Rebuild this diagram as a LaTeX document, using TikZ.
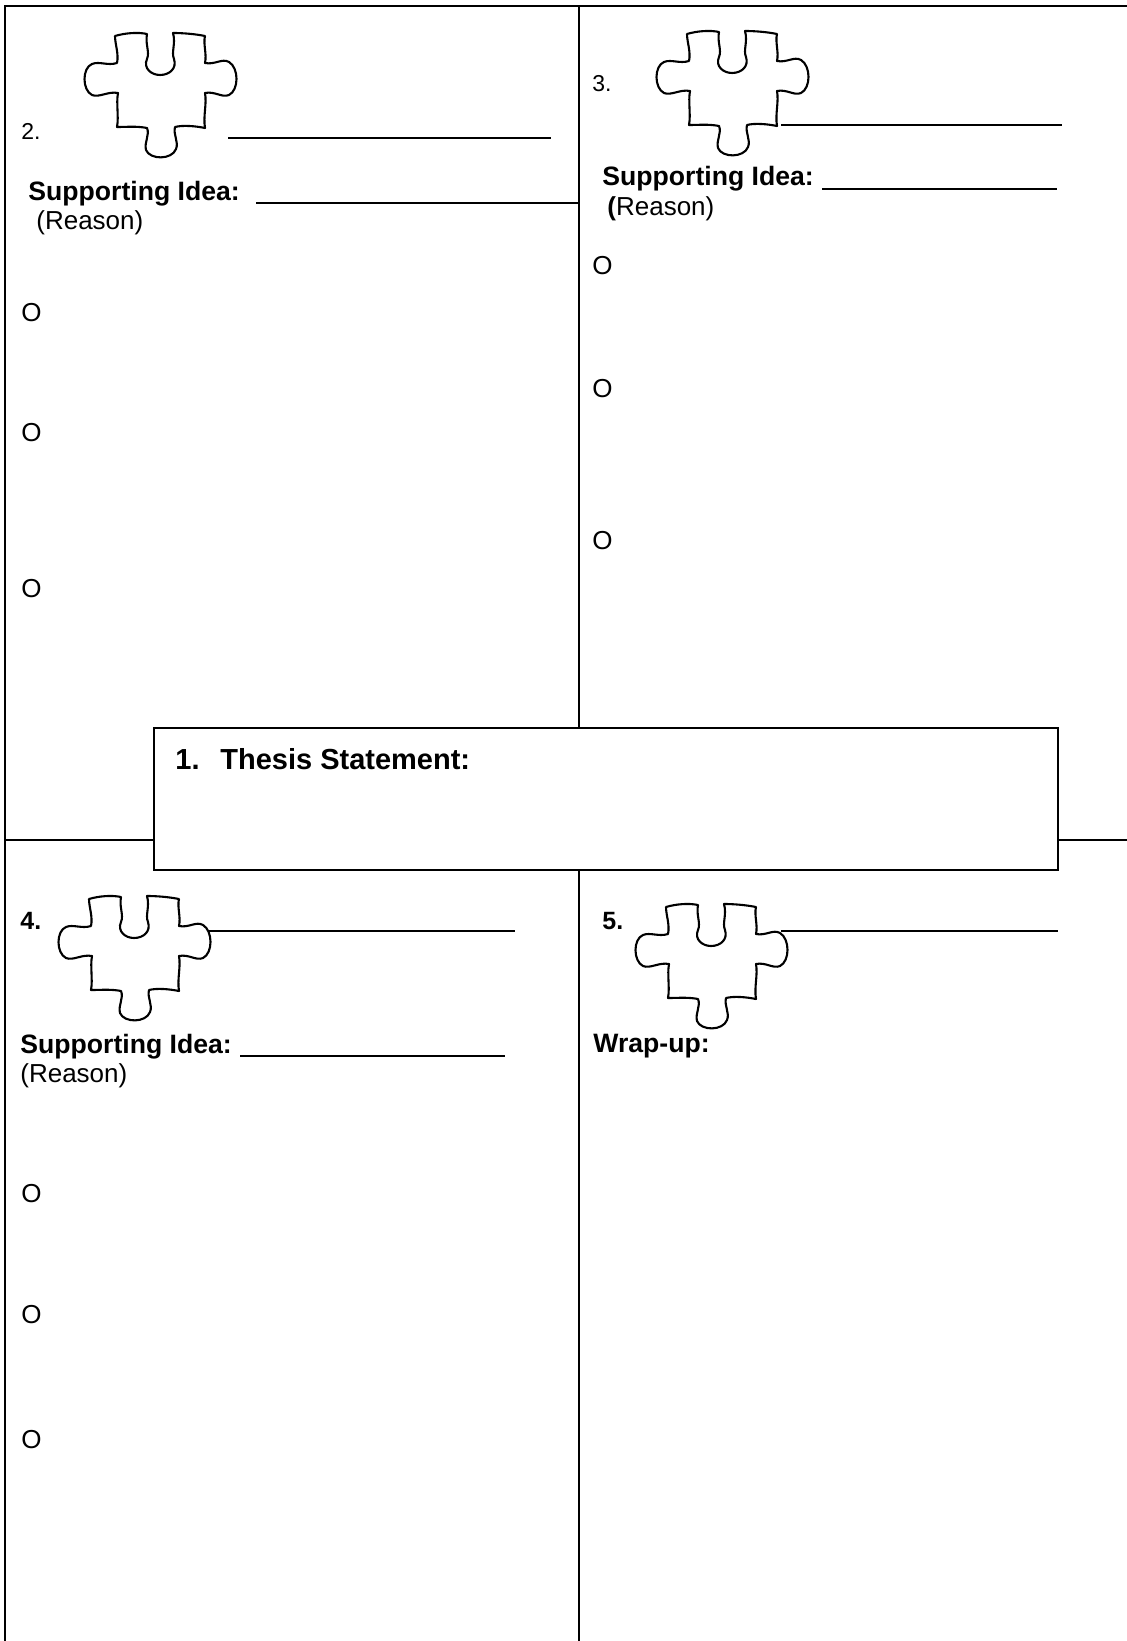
\documentclass[tikz,border=0pt]{standalone}
\usepackage{fontspec}
\setmainfont{Liberation Sans}
\tikzset{
  gridline/.style={line width=1.15pt, line cap=rect},
  piece/.style={line width=1.05pt, line join=round},
  blankline/.style={line width=0.9pt},
  thesisbox/.style={draw, fill=white, line width=1.4pt, minimum width=452pt, minimum height=71pt, inner sep=0pt},
  bodytext/.style={inner sep=0pt, anchor=base west, font=\fontsize{13}{15}\selectfont},
  boldtext/.style={inner sep=0pt, anchor=base west, font=\fontsize{13.3}{15}\selectfont\bfseries},
  numtext/.style={inner sep=0pt, anchor=base west, font=\fontsize{11.5}{13}\selectfont},
  bnumtext/.style={inner sep=0pt, anchor=base west, font=\fontsize{12.5}{14}\selectfont\bfseries},
  thesistext/.style={inner sep=0pt, anchor=base west, font=\fontsize{14.5}{17}\selectfont\bfseries},
  puzzle/.pic={
    \draw[piece] (32,4) .. controls (42,1) and (55,0) .. (64,2)
      .. controls (62,12) and (67,20) .. (64,27)
      .. controls (60,36) and (68,43) .. (77,43)
      .. controls (87,43) and (94,36) .. (91,27)
      .. controls (88,20) and (93,12) .. (90,1)
      .. controls (100,1) and (112,2) .. (122,4)
      .. controls (120,12) and (124,22) .. (122,31)
      .. controls (132,33) and (139,26) .. (146,30)
      .. controls (156,36) and (156,58) .. (146,63)
      .. controls (139,66) and (132,59) .. (122,61)
      .. controls (124,72) and (120,84) .. (122,96)
      .. controls (112,94) and (100,93) .. (92,95)
      .. controls (90,103) and (96,110) .. (93,117)
      .. controls (89,128) and (67,128) .. (63,118)
      .. controls (61,110) and (67,103) .. (64,96)
      .. controls (54,94) and (44,95) .. (34,95)
      .. controls (36,84) and (33,72) .. (35,61)
      .. controls (25,59) and (16,66) .. (9,63)
      .. controls (-1,58) and (-1,36) .. (9,32)
      .. controls (16,29) and (25,34) .. (34,31)
      .. controls (36,22) and (32,12) .. (32,4) -- cycle;
  }
}
\begin{document}
\begin{tikzpicture}[x=0.5pt,y=-0.5pt]
\useasboundingbox (0,0) rectangle (1126,1641);
\fill[white] (0,0) rectangle (1126,1641);
% frame coordinates
\coordinate (tl) at (5,6);
\coordinate (tr) at (1126,6);
\coordinate (bl) at (5,1641);
\coordinate (mt) at (579,6);
\coordinate (mb) at (579,1641);
\coordinate (ml) at (5,840);
\coordinate (mr) at (1126,840);
\draw[gridline] (tr) -- (tl) -- (bl);
\draw[gridline] (mt) -- (mb);
\draw[gridline] (ml) -- (mr);
% thesis box
\node[thesisbox] (thesis) at (606,799) {};
\node[thesistext] (t1) at (175,769) {1.};
\node[thesistext] (t2) at (220,769) {Thesis Statement:};
% panel 2
\node[numtext] (n2) at (21,140) {2.};
\pic at (83,32) {puzzle};
\draw[blankline] (228,138) -- (551,138);
\node[boldtext] (s2) at (28,201) {Supporting Idea:};
\draw[blankline] (256,203) -- (578,203);
\node[bodytext] (r2) at (36,230) {(Reason)};
\node[bodytext] (o2a) at (21,322) {O};
\node[bodytext] (o2b) at (21,442) {O};
\node[bodytext] (o2c) at (21,597) {O};
% panel 3
\node[numtext] (n3) at (592,92) {3.};
\pic at (655,30) {puzzle};
\draw[blankline] (781,125) -- (1062,125);
\node[boldtext] (s3) at (602,186) {Supporting Idea:};
\draw[blankline] (822,189) -- (1057,189);
\node[bodytext] (r3) at (607,216) {\textbf{(}Reason)};
\node[bodytext] (o3a) at (592,275) {O};
\node[bodytext] (o3b) at (592,398) {O};
\node[bodytext] (o3c) at (592,550) {O};
% panel 4
\node[bnumtext] (n4) at (20,929) {4.};
\pic at (57,895) {puzzle};
\draw[blankline] (209,931) -- (515,931);
\node[boldtext] (s4) at (20,1053) {Supporting Idea:};
\draw[blankline] (240,1056) -- (505,1056);
\node[bodytext] (r4) at (20,1082) {(Reason)};
\node[bodytext] (o4a) at (21,1202) {O};
\node[bodytext] (o4b) at (21,1323) {O};
\node[bodytext] (o4c) at (21,1448) {O};
% panel 5
\node[bnumtext] (n5) at (602,929) {5.};
\pic at (634,903) {puzzle};
\draw[blankline] (781,931) -- (1058,931);
\node[boldtext] (w5) at (593,1052) {Wrap-up:};
\end{tikzpicture}
\end{document}
